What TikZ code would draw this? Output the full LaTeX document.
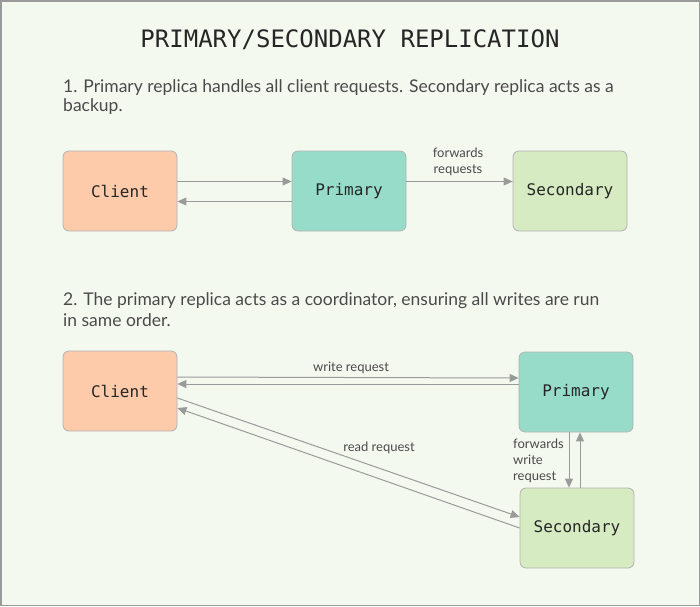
\documentclass[tikz,border=0pt]{standalone}
\usepackage{fontspec}
\usetikzlibrary{arrows.meta}
\setmainfont{Lato}
\newfontfamily\monofont{DejaVu Sans Mono}
\definecolor{bgc}{HTML}{F4F9F0}
\definecolor{framec}{HTML}{9A9A9A}
\definecolor{txtc}{HTML}{4A4A4A}
\definecolor{arrc}{HTML}{9A9A9A}
\definecolor{clientc}{HTML}{FDCBAA}
\definecolor{primc}{HTML}{97DCC8}
\definecolor{secc}{HTML}{D6EBC2}
\begin{document}
\begin{tikzpicture}[x=1pt,y=-1pt,
  box/.style={rectangle,rounded corners=6pt,minimum width=114pt,minimum height=80pt,draw=black!30,line width=0.8pt,font=\monofont\fontsize{16}{18}\selectfont,text=black!85},
  conn/.style={draw=arrc,line width=1pt,-{Triangle[length=9pt,width=8pt]}},
  para/.style={anchor=base west,inner sep=0pt,text=txtc,font=\fontsize{17.5}{20}\selectfont},
  lbl/.style={text=txtc,font=\fontsize{13}{16}\selectfont,inner sep=0pt}]
\useasboundingbox (0,0) rectangle (700,606);
\fill[bgc] (0,0) rectangle (700,606);
\draw[framec,line width=1.5pt] (0.75,0.75) rectangle (699.25,605.25);
\node[anchor=base,inner sep=0pt,text=black!85,font=\monofont\fontsize{24}{28}\selectfont] (title) at (350,47) {PRIMARY/SECONDARY REPLICATION};
\node[para] (t1a) at (63,92) {1. Primary replica handles all client requests. Secondary replica acts as a};
\node[para] (t1b) at (63,111) {backup.};
\node[para] (t2a) at (63,305) {2. The primary replica acts as a coordinator, ensuring all writes are run};
\node[para] (t2b) at (63,326) {in same order.};
% row 1
\node[box,fill=clientc] (c1) at (120,191) {Client};
\node[box,fill=primc] (p1) at (349,191) {Primary};
\node[box,fill=secc] (s1) at (570,191) {Secondary};
\draw[conn] ([yshift=9.5pt]c1.east) -- ([yshift=9.5pt]p1.west);
\draw[conn] ([yshift=-10.5pt]p1.west) -- ([yshift=-10.5pt]c1.east);
\draw[conn] ([yshift=9.5pt]p1.east) -- ([yshift=9.5pt]s1.west);
\node[lbl,align=center] (l1) at (458,162) {forwards\\requests};
% row 2
\node[box,fill=clientc] (c2) at (120,391) {Client};
\node[box,fill=primc] (p2) at (576,392) {Primary};
\node[box,fill=secc] (s2) at (577,528) {Secondary};
\draw[conn] ([yshift=14pt]c2.east) -- ([yshift=14pt]p2.west);
\draw[conn] ([yshift=8pt]p2.west) -- ([yshift=7pt]c2.east);
\draw[conn] ([yshift=-7pt]c2.east) -- ([yshift=11pt]s2.west);
\draw[conn] (s2.west) -- ([yshift=-17pt]c2.east);
\draw[conn] ([xshift=-7pt]p2.south) -- ([xshift=-8pt]s2.north);
\draw[conn] ([xshift=3pt]s2.north) -- ([xshift=4pt]p2.south);
\node[lbl] (l2) at (351,368) {write request};
\node[lbl] (l3) at (379,448) {read request};
\node[lbl,align=left,anchor=west] (l4) at (513,461) {forwards\\write\\request};
\end{tikzpicture}
\end{document}
